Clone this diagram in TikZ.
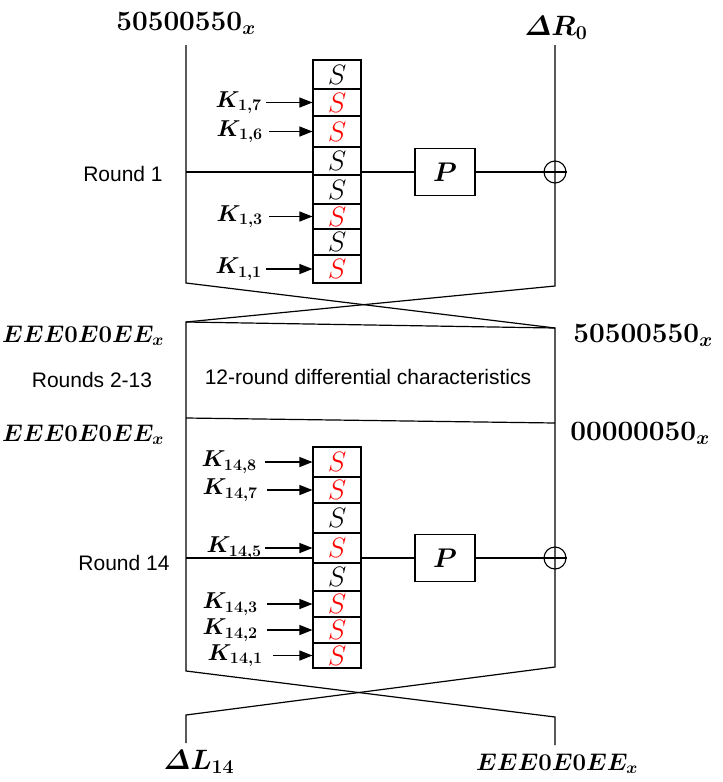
\RequirePackage{fix-cm}
\documentclass[tikz,border=0pt]{standalone}
\usepackage{amsmath}
\usepackage{fontspec}
\newfontfamily\labelsans{Liberation Sans}
\usetikzlibrary{arrows.meta}

\tikzset{
  wire/.style={line width=1.2pt},
  sbox/.style={draw, line width=1.1pt, minimum width=48pt, inner sep=0pt,
    font=\fontsize{28}{29}\selectfont},
  perm/.style={draw, line width=1.1pt, minimum width=60pt, minimum height=47pt,
    inner sep=0pt, font=\fontsize{27}{28}\selectfont\boldmath},
  xorop/.style={draw, circle, minimum size=22pt, inner sep=0pt, line width=1.1pt},
  keyarrow/.style={line width=1.2pt, -{Triangle[length=13pt,width=10pt]}},
  keylabel/.style={anchor=east, inner sep=0pt,
    font=\fontsize{23}{25}\selectfont\boldmath},
  roundlabel/.style={inner sep=0pt, font=\labelsans\fontsize{21}{24}\selectfont},
  difflabel/.style={anchor=base, inner sep=0pt,
    font=\fontsize{28}{30}\selectfont\boldmath},
  hexlabel/.style={anchor=base, inner sep=0pt,
    font=\fontsize{24}{26}\selectfont\boldmath},
}

\begin{document}
\begin{tikzpicture}[x=1pt, y=-1pt]
\useasboundingbox (0,0) rectangle (723,782);

% ---- the two halves of the state ----
\coordinate (L0) at (186,45);
\coordinate (L1) at (186,283);
\coordinate (L2) at (186,322);
\coordinate (L3) at (186,418);
\coordinate (L4) at (186,671);
\coordinate (L5) at (186,715);
\coordinate (L6) at (186,743);
\coordinate (R0) at (555,45);
\coordinate (R1) at (555,286);
\coordinate (R2) at (555,328);
\coordinate (R3) at (555,423);
\coordinate (R4) at (555,667);
\coordinate (R5) at (555,717);
\coordinate (R6) at (555,745);

% ---- round 1: S-box layer ----
\foreach \nm/\ya/\yb/\cl in {a1/60/89/black, a2/89/116/red, a3/116/147/red,
    a4/147/175/black, a5/175/204/black, a6/204/229/red, a7/229/255/black,
    a8/255/283/red}
  \node[sbox, text=\cl, minimum height={(\yb-\ya)*1pt}] (\nm) at (337,{(\ya+\yb)/2}) {$S$};

\node[perm] (p1) at (445,172) {$P$};
\node[xorop] (x1) at (555,172) {};

% ---- round 14: S-box layer ----
\foreach \nm/\ya/\yb/\cl in {b1/447/477/red, b2/477/503/red, b3/503/533/black,
    b4/533/563/red, b5/563/591/black, b6/591/617/red, b7/617/643/red,
    b8/643/668/red}
  \node[sbox, text=\cl, minimum height={(\yb-\ya)*1pt}] (\nm) at (337,{(\ya+\yb)/2}) {$S$};

\node[perm] (p2) at (445,558) {$P$};
\node[xorop] (x2) at (555,558) {};

% ---- state wires with the two swaps ----
\draw[wire] (L0) -- (L1) -- (R2) -- (R3) -- (R4) -- (L5) -- (L6);
\draw[wire] (R0) -- (R1) -- (L2) -- (L3) -- (L4) -- (R5) -- (R6);
\draw[wire] (L2) -- (R2);
\draw[wire] (L3) -- (R3);

% ---- round functions ----
\coordinate (h1) at (186,172);
\coordinate (h2) at (186,558);
\draw[wire] (h1) -- (a4.west |- h1);
\draw[wire] (a4.east |- h1) -- (p1.west);
\draw[wire] (p1.east) -- (x1.west);
\draw[wire] (x1.west) -- (x1.east);
\draw[wire] (h2) -- (b4.west |- h2);
\draw[wire] (b4.east |- h2) -- (p2.west);
\draw[wire] (p2.east) -- (x2.west);
\draw[wire] (x2.west) -- (x2.east);

% ---- subkey inputs ----
\node[keylabel] (k17) at (262,102.5) {$K_{1,7}$};
\node[keylabel] (k16) at (263,131.5) {$K_{1,6}$};
\node[keylabel] (k13) at (263,216.5) {$K_{1,3}$};
\node[keylabel] (k11) at (262,269) {$K_{1,1}$};
\draw[keyarrow] ([xshift=4pt]k17.east) -- (a2.west);
\draw[keyarrow] ([xshift=6pt]k16.east) -- (a3.west);
\draw[keyarrow] ([xshift=6pt]k13.east) -- (a6.west);
\draw[keyarrow] ([xshift=4pt]k11.east) -- (a8.west);

\node[keylabel] (m8) at (257,462) {$K_{14,8}$};
\node[keylabel] (m7) at (258,490) {$K_{14,7}$};
\node[keylabel] (m5) at (262,548) {$K_{14,5}$};
\node[keylabel] (m3) at (258,604) {$K_{14,3}$};
\node[keylabel] (m2) at (258,630) {$K_{14,2}$};
\node[keylabel] (m1) at (263,655.5) {$K_{14,1}$};
\draw[keyarrow] ([xshift=8pt]m8.east) -- (b1.west);
\draw[keyarrow] ([xshift=9pt]m7.east) -- (b2.west);
\draw[keyarrow] ([xshift=3pt]m5.east) -- (b4.west);
\draw[keyarrow] ([xshift=9pt]m3.east) -- (b6.west);
\draw[keyarrow] ([xshift=9pt]m2.east) -- (b7.west);
\draw[keyarrow] ([xshift=10pt]m1.east) -- (b8.west);

% ---- round names ----
\node[roundlabel] (r1) at (123,174) {Round 1};
\node[roundlabel] (r2) at (92,380) {Rounds 2-13};
\node[roundlabel] (r14) at (124,563) {Round 14};
\node[roundlabel] (mid) at (368,377) {12-round differential characteristics};

% ---- differences ----
\node[difflabel] (inL) at (186,30) {$50500550_x$};
\node[difflabel] (inR) at (556,35) {$\varDelta R_0$};
\node[hexlabel] (d2L) at (83,342) {$EEE0E0EE_x$};
\node[difflabel] (d2R) at (643,342) {$50500550_x$};
\node[hexlabel] (d13L) at (83,441) {$EEE0E0EE_x$};
\node[difflabel] (d13R) at (640,440) {$00000050_x$};
\node[difflabel] (outL) at (199,769) {$\varDelta L_{14}$};
\node[hexlabel] (outR) at (557,770) {$EEE0E0EE_x$};
\end{tikzpicture}
\end{document}
